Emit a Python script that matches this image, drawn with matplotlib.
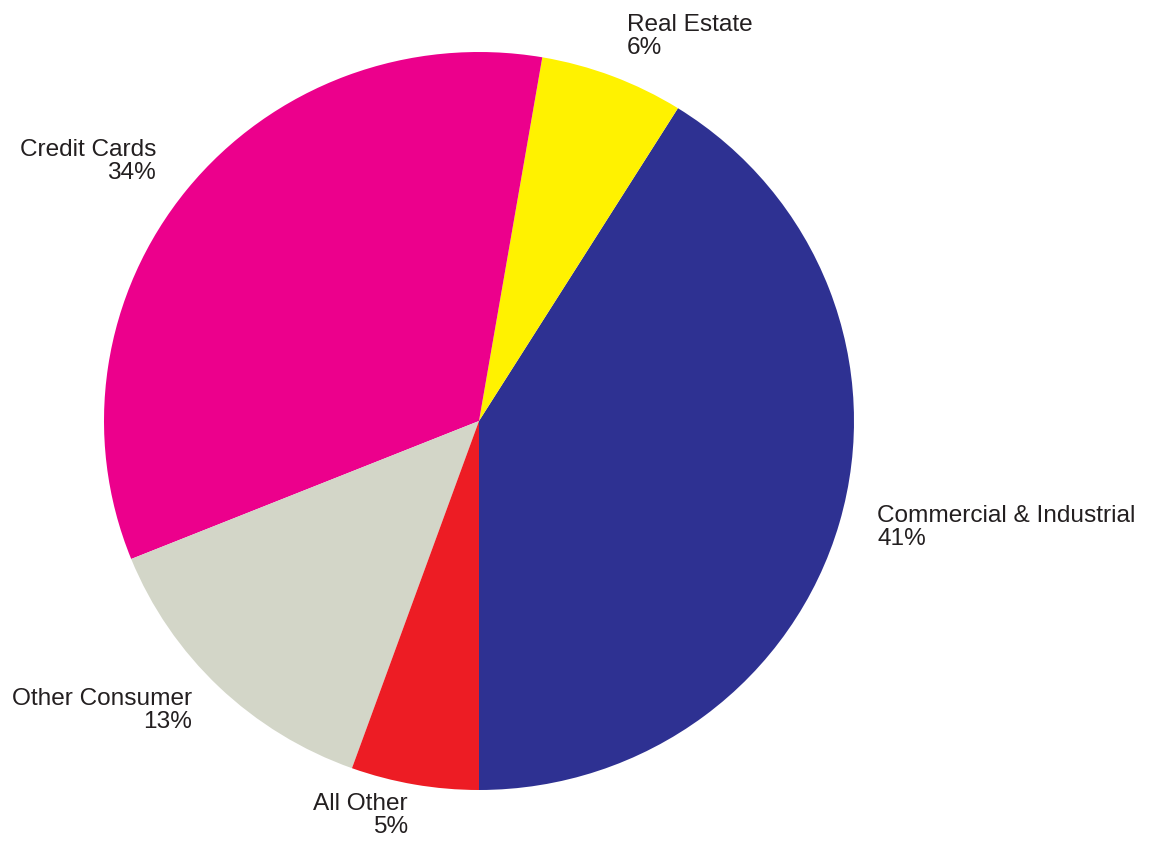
import numpy as np
import matplotlib.pyplot as plt

plt.rcParams['font.family'] = ['Liberation Sans', 'DejaVu Sans']

# Loan mix (shares in %, labels show rounded values)
categories = ["Commercial & Industrial", "Real Estate", "Credit Cards",
              "Other Consumer", "All Other"]
shares = [41.1, 6.2, 33.8, 13.4, 5.5]
pct_labels = ["41%", "6%", "34%", "13%", "5%"]
colors = ["#2E3192", "#FFF200", "#EC008C", "#D3D6C8", "#ED1C24"]

W, H = 1152, 842
fig = plt.figure(figsize=(W / 100, H / 100), dpi=100)
ax = fig.add_axes([0, 0, 1, 1])

# pie is slightly wider than tall in the reference
rx, ry = 375.0, 369.0
sy = rx / ry                      # vertical stretch of data units
cx, cy_px = 479.0, 421.0          # centre in pixels (from top)

ax.pie(shares, colors=colors, startangle=-90, counterclock=True,
       radius=rx, center=(cx, (H - cy_px) * sy),
       wedgeprops=dict(linewidth=0))
ax.set_aspect('auto')
ax.set_xlim(0, W)
ax.set_ylim(0, H * sy)
ax.axis('off')

# label anchors: (x px, last-line baseline px from top, alignment)
label_pos = [(877, 545, 'left'), (627, 54, 'left'), (156, 179, 'right'),
             (192, 728, 'right'), (408, 833, 'right')]

for name, pct, (lx, ly, ha) in zip(categories, pct_labels, label_pos):
    ax.text(lx, (H - ly) * sy, f"{name}\n{pct}", ha=ha, va='baseline',
            multialignment=ha, fontsize=17.6, color="#231F20",
            linespacing=1.08)

fig.savefig("out.png", dpi=100)
